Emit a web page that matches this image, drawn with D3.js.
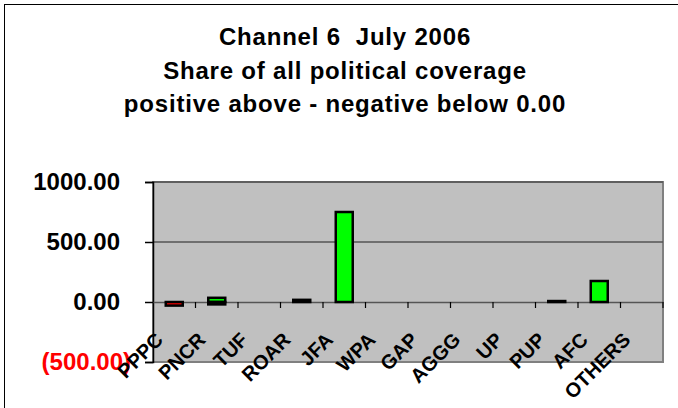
<!DOCTYPE html>
<html><head><meta charset="utf-8">
<script src="https://cdn.jsdelivr.net/npm/d3@7"></script>
<style>html,body{margin:0;padding:0;background:#fff;}svg{display:block;}text{white-space:pre;}</style>
</head><body>
<script>
const titleLines = ["Channel 6  July 2006", "Share of all political coverage", "positive above - negative below 0.00"];
const categories = ["PPPC","PNCR","TUF","ROAR","JFA","WPA","GAP","AGGG","UP","PUP","AFC","OTHERS"];
const positiveValues = [0, 35, 0, 18, 750, 0, 0, 0, 0, 8, 175, 0];
const negativeValues = [-30, -20, 0, 0, 0, 0, 0, 0, 0, 0, 0, 0];
const yTicks = [-500, 0, 500, 1000];

const W = 678, H = 408;
const plot = {left: 153, right: 663, top: 182, bottom: 362};
const font = "'Liberation Sans', Arial, Helvetica, sans-serif";

const svg = d3.select("body").append("svg").attr("width", W).attr("height", H);
svg.append("rect").attr("x", 4.5).attr("y", 4.5).attr("width", W + 10).attr("height", H + 10)
  .attr("fill", "#fff").attr("stroke", "#000").attr("stroke-width", 1);

const x = d3.scaleBand().domain(categories).range([plot.left, plot.right]).paddingInner(0).paddingOuter(0);
const y = d3.scaleLinear().domain([-500, 1000]).range([plot.bottom, plot.top]);

// plot area
svg.append("rect").attr("x", plot.left).attr("y", plot.top)
  .attr("width", plot.right - plot.left).attr("height", plot.bottom - plot.top)
  .attr("fill", "#c0c0c0").attr("stroke", "#808080").attr("stroke-width", 2);

// gridlines
svg.append("g").selectAll("line").data([500, 1000]).join("line")
  .attr("x1", plot.left).attr("x2", plot.right)
  .attr("y1", d => y(d)).attr("y2", d => y(d))
  .attr("stroke", "#555").attr("stroke-width", 1.5);

// y axis
const yAxis = d3.axisLeft(y).tickValues(yTicks).tickSize(8).tickPadding(25)
  .tickFormat(d => d < 0 ? "(" + d3.format(".2f")(-d) + ")" : d3.format(".2f")(d));
const ya = svg.append("g").attr("transform", `translate(${plot.left},0)`).call(yAxis);
ya.select(".domain").attr("stroke", "#000").attr("stroke-width", 1.5);
ya.selectAll(".tick line").attr("stroke", "#000").attr("stroke-width", 1.5);
ya.selectAll(".tick text").attr("font-family", font).attr("font-weight", "bold")
  .attr("font-size", 24).attr("dx", d => d < 0 ? 11 : 0)
  .attr("fill", d => d < 0 ? "#ff0000" : "#000");

// bars
const barW = 17;
const bars = svg.append("g");
bars.selectAll("rect.pos").data(categories.map((c, i) => ({c, v: positiveValues[i]})).filter(d => d.v !== 0))
  .join("rect").attr("class", "pos")
  .attr("x", d => x(d.c) + x.bandwidth() / 2 - barW / 2).attr("width", barW)
  .attr("y", d => y(d.v)).attr("height", d => y(0) - y(d.v))
  .attr("fill", "#00ff00").attr("stroke", "#000").attr("stroke-width", 2.5);
bars.selectAll("rect.neg").data(categories.map((c, i) => ({c, v: negativeValues[i]})).filter(d => d.v !== 0))
  .join("rect").attr("class", "neg")
  .attr("x", d => x(d.c) + x.bandwidth() / 2 - barW / 2).attr("width", barW)
  .attr("y", y(0)).attr("height", d => y(d.v) - y(0))
  .attr("fill", "#ff0000").attr("stroke", "#000").attr("stroke-width", 2.5);

// zero line / category axis
const xAxis = d3.axisBottom(x).tickSize(0).tickFormat("");
const xa = svg.append("g").attr("transform", `translate(0,${y(0)})`).call(xAxis);
xa.select(".domain").attr("stroke", "#555").attr("stroke-width", 1.5);
xa.selectAll(".tick").remove();
svg.append("g").selectAll("line").data(categories.map((c, i) => i + 1)).join("line")
  .attr("x1", i => plot.left + i * x.step()).attr("x2", i => plot.left + i * x.step())
  .attr("y1", y(0)).attr("y2", y(0) + 6).attr("stroke", "#000").attr("stroke-width", 1.2);
bars.raise();

// category labels
svg.append("g").selectAll("text").data(categories).join("text")
  .attr("transform", d => `translate(${x(d) + x.bandwidth() / 2 - 10},${y(0) + 39}) rotate(-45)`)
  .attr("text-anchor", "end")
  .attr("font-family", font).attr("font-weight", "bold").attr("font-size", 20)
  .attr("fill", "#000").text(d => d);

// title
svg.append("g").selectAll("text").data(titleLines).join("text")
  .attr("x", 345).attr("y", (d, i) => 45 + i * 33.5)
  .attr("text-anchor", "middle").attr("font-family", font).attr("font-weight", "bold")
  .attr("font-size", 24).attr("letter-spacing", 0.8).attr("fill", "#000").text(d => d);
</script>
</body></html>
